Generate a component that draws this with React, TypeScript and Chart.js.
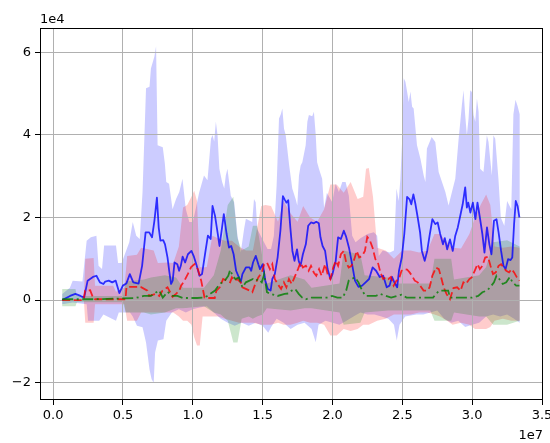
import React, { useEffect, useRef } from "react";
import { Chart, registerables } from "chart.js";

Chart.register(...registerables);

// x values are training steps in millions; y values are returns in units of 1e4
const blueX = [
  0.65, 1.21, 1.59, 1.96, 2.22, 2.47, 2.85, 3.1, 3.35, 3.6,
  3.73, 3.98, 4.23, 4.48, 4.74, 4.99, 5.24, 5.49, 5.74, 6.12,
  6.37, 6.62, 6.88, 7.08, 7.25, 7.43, 7.56, 7.68, 7.88, 8.01,
  8.19, 8.31, 8.44, 8.56, 8.69, 8.89, 9.02, 9.14, 9.27, 9.45,
  9.65, 9.9, 10.08, 10.28, 10.48, 10.66, 10.91, 11.08, 11.28, 11.41,
  11.59, 11.79, 11.91, 12.09, 12.22, 12.42, 12.59, 12.75, 12.92, 13.1,
  13.3, 13.43, 13.55, 13.8, 14.06, 14.18, 14.31, 14.51, 14.69, 14.81,
  15.01, 15.19, 15.37, 15.57, 15.69, 15.87, 16.07, 16.27, 16.45, 16.57,
  16.7, 16.83, 16.98, 17.13, 17.28, 17.46, 17.58, 17.71, 17.88, 18.09,
  18.26, 18.46, 18.66, 18.84, 19.02, 19.14, 19.29, 19.47, 19.65, 19.85,
  20.0, 20.23, 20.4, 20.6, 20.81, 20.98, 21.18, 21.36, 21.61, 21.86,
  22.12, 22.37, 22.62, 22.87, 23.12, 23.38, 23.63, 23.88, 24.08, 24.26,
  24.43, 24.63, 24.76, 24.96, 25.14, 25.34, 25.52, 25.64, 25.79, 25.94,
  26.1, 26.27, 26.4, 26.6, 26.78, 26.95, 27.15, 27.36, 27.53, 27.71,
  27.91, 28.04, 28.21, 28.41, 28.61, 28.79, 28.97, 29.17, 29.32, 29.5,
  29.62, 29.72, 29.87, 30.05, 30.23, 30.38, 30.55, 30.73, 30.88, 31.06,
  31.23, 31.38, 31.56, 31.74, 31.89, 32.07, 32.24, 32.39, 32.57, 32.75,
  32.87, 33.0, 33.12, 33.25, 33.38,
];
const blueMean = [
  0, 0.1, 0.15, 0.1, 0.06, 0.47, 0.56, 0.59, 0.43, 0.39,
  0.45, 0.47, 0.43, 0.47, 0.17, 0.35, 0.4, 0.63, 0.43, 0.4,
  0.83, 1.64, 1.64, 1.52, 1.92, 2.48, 1.75, 1.44, 1.45, 1.35,
  1.03, 0.71, 0.39, 0.47, 0.91, 0.87, 0.71, 0.83, 1.05, 0.91,
  1.11, 1.19, 1.05, 0.83, 0.59, 0.63, 1.19, 1.56, 1.48, 2.28,
  2.04, 1.6, 1.31, 1.75, 2.08, 1.6, 1.27, 1.31, 1.11, 0.71,
  0.55, 0.43, 0.63, 0.79, 0.79, 0.71, 0.91, 1.07, 0.87, 0.75,
  0.87, 0.47, 0.27, 0.23, 0.51, 0.63, 1.03, 1.68, 2.52, 2.44,
  2.36, 2.42, 1.76, 1.19, 0.95, 1.23, 0.95, 0.83, 1.11, 1.35,
  1.8, 1.88, 1.86, 1.9, 1.86, 1.52, 1.31, 1.19, 0.75, 0.51,
  0.63, 0.95, 1.52, 1.48, 1.68, 1.53, 1.27, 0.95, 0.47, 0.32,
  0.35, 0.43, 0.51, 0.79, 0.71, 0.56, 0.59, 0.31, 0.35, 0.56,
  0.43, 0.31, 0.71, 1.03, 1.6, 2.5, 2.44, 2.32, 2.56, 2.32,
  2.0, 1.64, 1.19, 0.95, 1.19, 1.56, 1.96, 1.84, 1.88, 1.6,
  1.35, 1.5, 1.23, 1.47, 1.19, 1.56, 1.76, 2.08, 2.32, 2.73,
  2.24, 2.36, 2.12, 2.36, 1.96, 2.36, 2.0, 1.6, 1.15, 1.76,
  1.35, 1.11, 1.92, 1.96, 1.64, 1.19, 0.83, 0.75, 0.99, 0.97,
  1.03, 1.84, 2.4, 2.28, 2.0,
];

const redX = [
  0.65, 2.17, 2.29, 2.65, 2.89, 3.01, 4.34, 5.18, 5.25, 5.42,
  6.27, 6.75, 6.87, 7.35, 7.6, 7.83, 8.19, 8.55, 8.8, 9.04,
  9.16, 9.4, 9.64, 9.88, 10.12, 10.36, 10.6, 10.84, 11.08, 11.57,
  11.69, 11.93, 12.17, 12.42, 12.67, 12.8, 13.0, 13.17, 13.43, 13.55,
  13.8, 14.06, 14.26, 14.43, 14.69, 14.94, 15.11, 15.31, 15.52, 15.69,
  15.87, 16.07, 16.32, 16.52, 16.7, 16.88, 17.08, 17.33, 17.53, 17.71,
  17.88, 18.09, 18.29, 18.46, 18.66, 18.84, 19.04, 19.22, 19.47, 19.65,
  19.85, 20.05, 20.23, 20.4, 20.6, 20.81, 20.98, 21.16, 21.36, 21.56,
  21.74, 21.91, 22.12, 22.32, 22.49, 22.67, 22.87, 23.07, 23.25, 23.43,
  23.63, 23.83, 24.0, 24.18, 24.38, 24.58, 24.76, 24.94, 25.14, 25.34,
  25.52, 25.69, 25.89, 26.1, 26.27, 26.52, 26.78, 26.95, 27.15, 27.41,
  27.61, 27.78, 27.96, 28.16, 28.41, 28.66, 28.92, 29.17, 29.37, 29.55,
  29.8, 29.97, 30.18, 30.38, 30.55, 30.73, 30.93, 31.13, 31.31, 31.49,
  31.69, 31.89, 32.07, 32.24, 32.44, 32.64, 32.82, 33.0, 33.2, 33.38,
];
const redMean = [
  0, 0, 0.23, 0.24, 0.03, 0.02, 0.02, 0.02, 0.31, 0.32,
  0.32, 0.23, 0.1, 0.15, 0.1, 0.23, 0.31, 0.08, 0.15, 0.23,
  0.35, 0.47, 0.63, 0.8, 0.87, 0.75, 0.47, 0.06, 0.05, 0.05,
  0.23, 0.31, 0.51, 0.47, 0.43, 0.55, 0.47, 0.51, 0.43, 0.31,
  0.27, 0.23, 0.19, 0.35, 0.55, 0.67, 0.87, 0.91, 0.75, 0.87,
  0.51, 0.39, 0.27, 0.43, 0.31, 0.51, 0.39, 0.59, 0.75, 0.91,
  0.79, 0.83, 0.71, 0.83, 0.67, 0.59, 0.75, 0.59, 0.87, 0.63,
  0.51, 0.79, 0.95, 0.83, 1.11, 1.19, 0.91, 0.79, 0.83, 0.99,
  1.19, 1.03, 1.07, 1.19, 1.53, 1.45, 1.27, 0.99, 0.91, 0.67,
  0.51, 0.55, 0.51, 0.56, 0.35, 0.47, 0.51, 0.71, 0.75, 0.74,
  0.67, 0.59, 0.47, 0.43, 0.35, 0.23, 0.23, 0.31, 0.59, 0.79,
  0.75, 0.55, 0.31, 0.15, 0.02, 0.29, 0.31, 0.23, 0.43, 0.39,
  0.51, 0.55, 0.71, 0.87, 0.75, 0.83, 1.03, 1.05, 0.83, 0.63,
  0.67, 0.83, 0.87, 0.79, 0.71, 0.67, 0.75, 0.67, 0.55, 0.47,
];

const greenX = [
  0.65, 3.0, 5.9, 6.5, 7.0, 7.2, 7.6, 7.85, 8.2, 8.55,
  8.9, 9.3, 10.3, 10.8, 11.03, 11.28, 11.59, 11.84, 12.09, 12.29,
  12.54, 12.67, 12.85, 13.05, 13.3, 13.55, 13.8, 14.06, 14.31, 14.51,
  14.69, 14.94, 15.11, 15.31, 15.57, 16.07, 16.57, 16.83, 17.08, 17.33,
  17.58, 17.83, 18.09, 18.5, 19.6, 19.97, 20.35, 20.73, 20.98, 21.16,
  21.36, 21.61, 21.86, 22.12, 22.37, 23.1, 23.4, 24.2, 24.95, 25.3,
  27.2, 27.4, 27.66, 28.28, 28.41, 29.5, 30.0, 30.43, 30.73, 31.06,
  31.31, 31.56, 31.74, 31.94, 32.19, 32.44, 32.69, 32.89, 33.15, 33.38,
];
const greenMean = [
  0.02, 0.02, 0.05, 0.1, 0.1, 0.15, 0.23, 0.06, 0.2, 0.1,
  0.1, 0.05, 0.05, 0.06, 0.1, 0.16, 0.23, 0.35, 0.43, 0.47,
  0.59, 0.73, 0.59, 0.51, 0.55, 0.31, 0.43, 0.47, 0.51, 0.47,
  0.51, 0.43, 0.63, 0.19, 0.15, 0.1, 0.15, 0.16, 0.23, 0.27,
  0.15, 0.06, 0.02, 0.06, 0.06, 0.1, 0.06, 0.06, 0.23, 0.47,
  0.51, 0.55, 0.43, 0.23, 0.1, 0.1, 0.15, 0.06, 0.13, 0.06,
  0.06, 0.15, 0.23, 0.23, 0.06, 0.06, 0.06, 0.1, 0.19, 0.23,
  0.32, 0.43, 0.59, 0.51, 0.39, 0.43, 0.56, 0.43, 0.35, 0.35,
];

// shaded spreads
const blueUpperX = [
  0.65, 1.2, 1.4, 2.1, 2.4, 2.7, 3.1, 3.25, 3.5, 3.65,
  4.5, 4.65, 4.9, 5.1, 5.45, 5.7, 5.95, 6.2, 6.4, 6.65,
  6.9, 7.0, 7.25, 7.37, 7.48, 7.85, 8.0, 8.1, 8.3, 8.55,
  8.8, 9.03, 9.26, 9.5, 9.75, 10.0, 10.2, 10.45, 10.8, 11.05,
  11.3, 11.41, 11.53, 11.65, 11.77, 11.9, 12.1, 12.25, 12.36, 12.48,
  12.6, 12.72, 12.96, 13.2, 13.43, 13.67, 13.8, 14.25, 14.38, 14.5,
  14.62, 14.86, 15.1, 15.35, 15.6, 15.8, 16.0, 16.17, 16.3, 16.41,
  16.53, 16.65, 16.9, 17.12, 17.36, 17.48, 17.6, 17.72, 17.84, 18.08,
  18.2, 18.31, 18.55, 18.67, 18.8, 18.9, 19.03, 19.26, 19.4, 19.6,
  19.98, 20.22, 20.46, 20.7, 20.94, 21.17, 21.41, 21.65, 22.0, 22.5,
  22.96, 23.2, 23.31, 23.6, 24.1, 24.4, 24.58, 24.74, 24.86, 24.98,
  25.1, 25.22, 25.34, 25.46, 25.58, 25.7, 25.81, 26.05, 26.3, 26.53,
  26.65, 26.76, 27.1, 27.36, 27.6, 27.84, 28.08, 28.31, 28.55, 28.79,
  29.03, 29.15, 29.26, 29.38, 29.5, 29.62, 29.74, 29.86, 29.98, 30.1,
  30.22, 30.34, 30.46, 30.57, 30.81, 31.05, 31.17, 31.29, 31.41, 31.52,
  31.65, 31.88, 32.05, 32.3, 32.5, 32.8, 32.95, 33.1, 33.25, 33.4,
];
const blueUpper = [
  0.15, 0.3, 0.47, 0.45, 1.44, 1.52, 1.56, 0.83, 0.75, 1.32,
  1.32, 0.9, 0.9, 1.08, 1.4, 1.89, 1.56, 1.48, 2.62, 5.13,
  5.17, 5.61, 5.9, 6.15, 3.75, 3.7, 3.3, 2.86, 2.82, 2.2,
  2.45, 2.62, 2.94, 2.2, 1.89, 1.89, 2.2, 2.6, 3.02, 2.9,
  3.91, 4.0, 3.84, 4.32, 4.0, 3.18, 2.86, 2.7, 3.02, 3.18,
  2.86, 2.53, 2.37, 1.56, 1.15, 1.72, 1.97, 1.89, 2.45, 2.37,
  1.72, 1.56, 1.4, 1.24, 1.24, 1.56, 2.78, 4.4, 4.5, 4.64,
  4.15, 4.0, 3.26, 2.7, 2.45, 2.29, 3.02, 3.26, 3.34, 3.75,
  4.32, 4.48, 4.45, 4.56, 4.0, 3.34, 3.18, 2.94, 2.23, 2.6,
  2.37, 2.82, 2.62, 2.86, 2.86, 2.53, 1.56, 1.4, 1.5, 1.6,
  1.64, 1.56, 1.07, 1.2, 1.15, 1.2, 2.7, 2.4, 2.94, 3.83,
  5.37, 5.29, 5.05, 4.8, 5.05, 4.68, 4.64, 3.75, 3.42, 3.02,
  2.86, 3.67, 3.95, 3.83, 3.1, 2.86, 2.62, 2.29, 2.62, 2.94,
  3.91, 4.32, 4.72, 5.08, 4.48, 3.99, 4.4, 5.08, 5.04, 4.48,
  4.32, 4.88, 4.56, 3.18, 3.1, 3.99, 3.83, 3.42, 3.02, 3.99,
  3.91, 2.94, 2.0, 1.8, 2.4, 2.2, 4.5, 4.85, 4.7, 4.5,
];
const blueLowerX = [
  0.65, 1.4, 2.4, 2.5, 3.3, 3.6, 4.5, 4.7, 5.5, 5.7,
  6.0, 6.4, 6.65, 6.9, 7.05, 7.2, 7.3, 7.5, 7.9, 8.1,
  8.5, 9.0, 9.5, 10.0, 10.5, 11.0, 11.5, 12.0, 12.5, 13.0,
  13.5, 14.0, 14.5, 15.0, 15.4, 15.6, 16.0, 16.5, 17.0, 17.5,
  18.0, 18.5, 18.8, 19.0, 19.5, 20.0, 20.5, 21.0, 21.5, 22.0,
  22.5, 23.0, 23.5, 24.0, 24.4, 24.6, 24.8, 25.2, 26.0, 26.5,
  27.0, 27.5, 28.0, 28.5, 29.0, 29.5, 30.0, 30.5, 31.0, 31.5,
  32.0, 32.5, 33.0, 33.4,
];
const blueLower = [
  -0.1, -0.06, -0.1, -0.5, -0.5, -0.35, -0.5, -0.3, -0.3, -0.4,
  -0.62, -0.66, -1.03, -1.68, -1.92, -2.0, -1.27, -0.98, -0.95, -0.5,
  -0.3, -0.22, -0.3, -0.22, -0.18, -0.15, -0.3, -0.45, -0.55, -0.62,
  -0.55, -0.62, -0.55, -0.62, -0.79, -0.66, -0.45, -0.55, -0.7, -0.6,
  -0.55, -0.7, -1.02, -0.6, -0.5, -0.55, -0.6, -0.5, -0.4, -0.3,
  -0.35, -0.35, -0.4, -0.45, -0.6, -0.98, -0.6, -0.4, -0.35, -0.35,
  -0.3, -0.25, -0.45, -0.55, -0.5, -0.65, -0.6, -0.55, -0.4, -0.35,
  -0.4, -0.35, -0.45, -0.55,
];

const redBandX = [
  0.65, 2.2, 2.3, 2.9, 3.0, 4.3, 4.5, 5.1, 5.3, 6.0,
  6.3, 7.2, 7.5, 8.2, 8.6, 9.0, 9.3, 9.6, 9.9, 10.1,
  10.3, 10.5, 10.7, 11.0, 11.4, 11.8, 12.3, 12.8, 13.3, 13.8,
  14.3, 14.9, 15.2, 15.6, 16.1, 16.5, 17.0, 17.5, 17.9, 18.4,
  18.9, 19.4, 19.85, 20.3, 20.8, 21.3, 21.8, 22.2, 22.4, 22.6,
  22.9, 23.2, 23.8, 24.4, 25.0, 25.6, 26.2, 26.8, 27.3, 27.7,
  28.2, 28.6, 29.2, 29.8, 30.2, 30.6, 31.0, 31.3, 31.6, 32.2,
  32.8, 33.4,
];
const redUpper = [
  0, 0, 1.0, 1.02, 0.35, 0.35, 0.2, 0.3, 1.07, 1.1,
  1.27, 1.2, 0.9, 0.91, 0.9, 1.3, 2.24, 2.3, 2.5, 2.65,
  2.4, 0.8, 0.79, 0.8, 1.56, 1.5, 1.44, 1.44, 1.3, 1.2,
  1.2, 2.28, 2.3, 2.28, 1.9, 2.4, 2.1, 1.9, 2.28, 2.0,
  1.9, 2.2, 2.8, 2.8, 2.6, 2.86, 2.45, 2.5, 3.18, 3.2,
  2.5, 1.27, 1.2, 1.0, 1.2, 1.2, 1.15, 1.2, 1.6, 1.6,
  1.4, 1.27, 1.25, 1.6, 2.0, 2.3, 2.56, 2.3, 1.3, 1.27,
  1.3, 1.27,
];
const redLower = [
  0, 0, -0.55, -0.55, -0.1, -0.1, -0.1, -0.1, -0.5, -0.5,
  -0.3, -0.3, -0.3, -0.3, -0.3, -0.4, -0.5, -0.5, -0.6, -0.9,
  -1.1, -1.1, -0.4, -0.4, -0.4, -0.4, -0.45, -0.5, -0.55, -0.55,
  -0.55, -0.6, -0.6, -0.6, -0.55, -0.6, -0.6, -0.55, -0.5, -0.55,
  -0.55, -0.6, -0.86, -0.86, -0.7, -0.75, -0.7, -0.6, -0.6, -0.6,
  -0.55, -0.5, -0.45, -0.35, -0.35, -0.35, -0.3, -0.3, -0.35, -0.4,
  -0.5, -0.6, -0.55, -0.6, -0.7, -0.7, -0.7, -0.65, -0.5, -0.45,
  -0.5, -0.5,
];

const greenBandX = [
  0.65, 1.6, 1.7, 5.0, 5.2, 6.5, 7.0, 8.0, 8.8, 9.3,
  10.8, 11.5, 12.0, 12.5, 12.9, 13.2, 13.5, 14.0, 14.3, 14.6,
  15.0, 15.3, 17.0, 18.0, 18.5, 20.5, 20.8, 22.0, 22.3, 24.0,
  24.5, 27.0, 27.3, 28.5, 28.7, 30.5, 31.0, 31.5, 32.5, 33.4,
];
const greenUpper = [
  0.27, 0.27, 0.1, 0.1, 0.45, 0.5, 0.55, 0.6, 0.55, 0.3,
  0.3, 0.6, 1.2, 2.3, 2.5, 1.5, 1.2, 1.3, 1.8, 1.8,
  1.0, 0.4, 0.6, 0.5, 0.3, 0.4, 1.2, 1.1, 0.6, 0.55,
  0.4, 0.4, 1.0, 1.0, 0.5, 0.6, 0.8, 1.4, 1.45, 1.3,
];
const greenLower = [
  -0.15, -0.15, -0.05, -0.05, -0.3, -0.3, -0.35, -0.3, -0.2, -0.2,
  -0.15, -0.3, -0.35, -0.5, -1.03, -1.03, -0.45, -0.4, -0.45, -0.4,
  -0.35, -0.2, -0.25, -0.2, -0.2, -0.3, -0.6, -0.55, -0.3, -0.25,
  -0.25, -0.25, -0.5, -0.5, -0.3, -0.4, -0.4, -0.6, -0.6, -0.5,
];

const xTicks = [0, 5e6, 10e6, 15e6, 20e6, 25e6, 30e6, 35e6];
const xTickLabels = ["0.0", "0.5", "1.0", "1.5", "2.0", "2.5", "3.0", "3.5"];
const yTicks = [-20000, 0, 20000, 40000, 60000];
const yTickLabels = ["\u22122", "0", "2", "4", "6"];

const X_UNIT = 1e6;
const Y_UNIT = 1e4;
const FONT = { family: "'DejaVu Sans', sans-serif", size: 13 };

function toPoints(xs: number[], ys: number[]) {
  const n = Math.min(xs.length, ys.length);
  const out: { x: number; y: number }[] = [];
  for (let i = 0; i < n; i++) out.push({ x: xs[i] * X_UNIT, y: ys[i] * Y_UNIT });
  return out;
}

// closed outline: upper edge left-to-right, then lower edge right-to-left
function bandOutline(ux: number[], uy: number[], lx: number[], ly: number[]) {
  return toPoints(ux, uy).concat(toPoints(lx, ly).reverse());
}

const framePlugin = {
  id: "frame",
  afterDatasetsDraw(chart: any) {
    const { ctx, chartArea: a } = chart;
    ctx.save();
    ctx.strokeStyle = "#000";
    ctx.lineWidth = 1;
    const l = Math.round(a.left) + 0.5;
    const t = Math.round(a.top) + 0.5;
    const r = Math.round(a.right) - 0.5;
    const b = Math.round(a.bottom) - 0.5;
    ctx.strokeRect(l, t, r - l, b - t);
    ctx.restore();
  },
  afterDraw(chart: any) {
    const { ctx, chartArea: a } = chart;
    ctx.save();
    ctx.fillStyle = "#000";
    ctx.font = `${FONT.size}px ${FONT.family}`;
    ctx.textBaseline = "alphabetic";
    ctx.textAlign = "left";
    ctx.fillText("1e4", a.left, a.top - 5);
    ctx.textAlign = "right";
    ctx.fillText("1e7", a.right, chart.height - 4);
    ctx.restore();
  },
};

export default function App() {
  const ref = useRef<HTMLCanvasElement | null>(null);

  useEffect(() => {
    if (!ref.current) return;
    const bandBase = {
      borderWidth: 0,
      borderColor: "rgba(0,0,0,0)",
      pointRadius: 0,
      order: 5,
      tension: 0,
      fill: "shape",
    };
    const lineBase = { pointRadius: 0, fill: false, tension: 0, borderWidth: 1.8 };
    const chart = new Chart(ref.current, {
      type: "line",
      data: {
        datasets: [
          { ...lineBase, data: toPoints(greenX, greenMean), borderColor: "rgba(0,128,0,0.8)", borderDash: [11, 3.5, 2, 3.5], order: 0 },
          { ...lineBase, data: toPoints(redX, redMean), borderColor: "rgba(255,0,0,0.8)", borderDash: [8, 3.5], order: 1 },
          { ...lineBase, data: toPoints(blueX, blueMean), borderColor: "rgba(0,0,255,0.78)", order: 2, borderJoinStyle: "round" },
          { ...bandBase, data: bandOutline(greenBandX, greenUpper, greenBandX, greenLower), backgroundColor: "rgba(0,128,0,0.2)" },
          { ...bandBase, data: bandOutline(redBandX, redUpper, redBandX, redLower), backgroundColor: "rgba(255,0,0,0.2)" },
          { ...bandBase, data: bandOutline(blueUpperX, blueUpper, blueLowerX, blueLower), backgroundColor: "rgba(0,0,255,0.2)" },
        ] as any,
      },
      options: {
        animation: false,
        responsive: false,
        devicePixelRatio: 1,
        events: [],
        layout: { padding: { left: 0, top: 28, right: 7, bottom: 0 } },
        plugins: {
          legend: { display: false },
          tooltip: { enabled: false },
          filler: { drawTime: "beforeDraw" },
        } as any,
        scales: {
          x: {
            type: "linear",
            min: -0.94e6,
            max: 35.07e6,
            afterBuildTicks: (s: any) => {
              s.ticks = xTicks.map((v) => ({ value: v }));
            },
            afterFit: (s: any) => {
              s.height = 43;
              s.paddingLeft = 0;
              s.paddingRight = 0;
            },
            ticks: {
              callback: (v: any) => xTickLabels[xTicks.indexOf(Number(v))] ?? "",
              padding: 3,
              maxRotation: 0,
              autoSkip: false,
              color: "#000",
              font: FONT,
            },
            grid: { color: "#b0b0b0", tickColor: "#000", tickLength: 5, lineWidth: 1 },
            border: { display: false },
          },
          y: {
            type: "linear",
            min: -24200,
            max: 65900,
            afterBuildTicks: (s: any) => {
              s.ticks = yTicks.map((v) => ({ value: v }));
            },
            afterFit: (s: any) => {
              s.width = 40;
              s.paddingTop = 0;
              s.paddingBottom = 0;
            },
            ticks: {
              callback: (v: any) => yTickLabels[yTicks.indexOf(Number(v))] ?? "",
              padding: 4,
              autoSkip: false,
              color: "#000",
              font: FONT,
            },
            grid: { color: "#b0b0b0", tickColor: "#000", tickLength: 5, lineWidth: 1 },
            border: { display: false },
          },
        },
      } as any,
      plugins: [framePlugin],
    });
    return () => chart.destroy();
  }, []);

  return (
    <div style={{ position: "absolute", left: 0, top: 0, width: 550, height: 443, background: "#fff" }}>
      <canvas ref={ref} width={550} height={443} style={{ display: "block" }} />
    </div>
  );
}
